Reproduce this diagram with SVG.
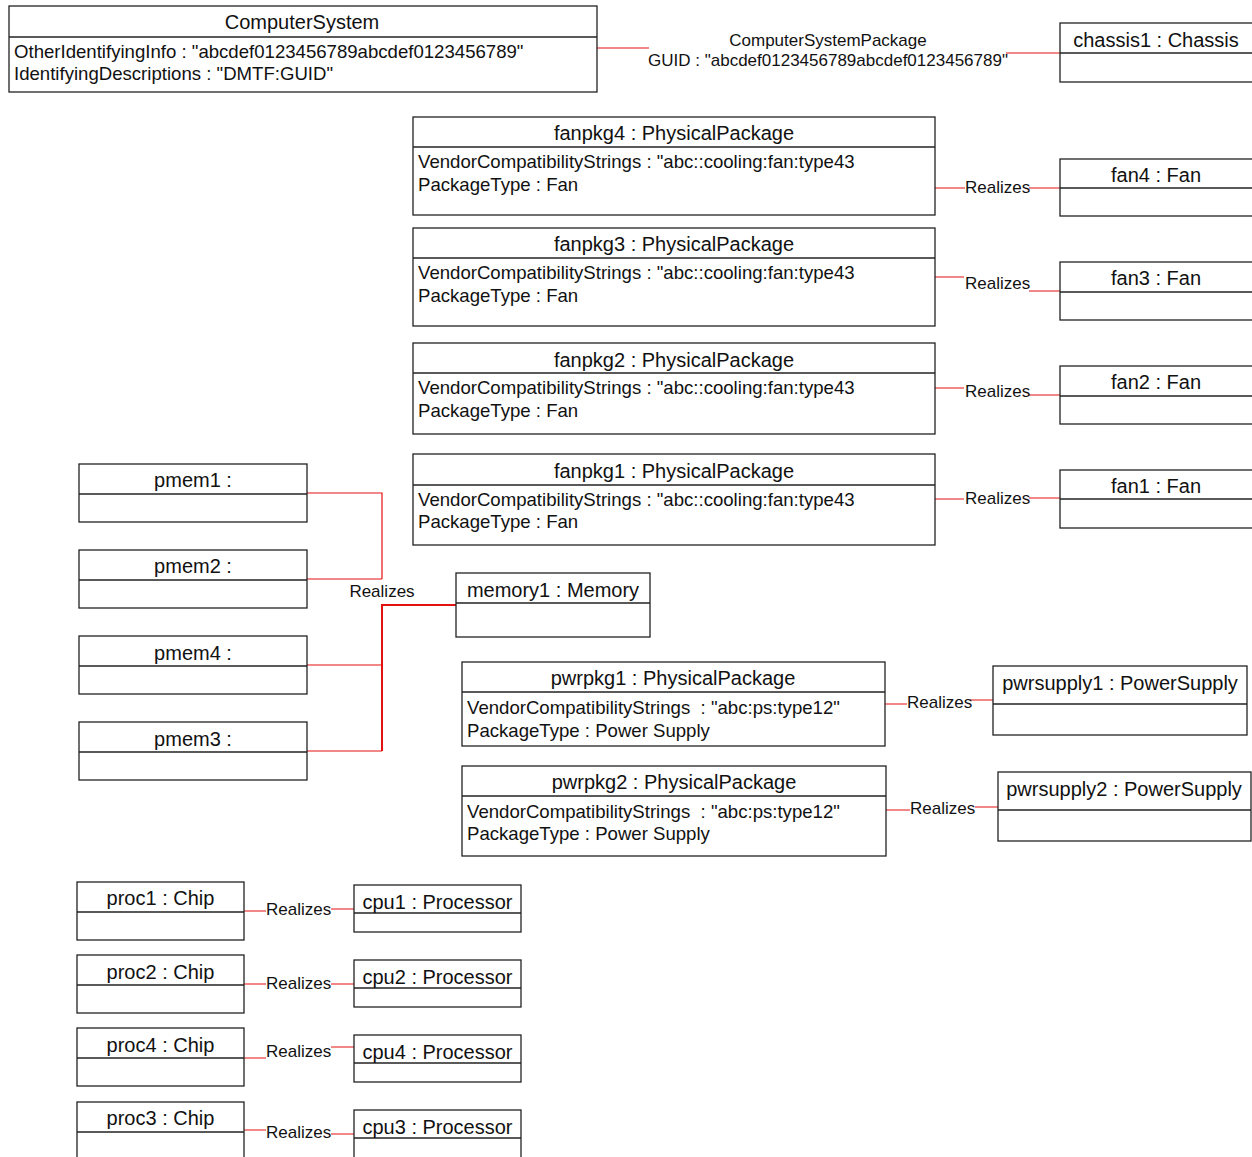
<svg xmlns="http://www.w3.org/2000/svg" width="1252" height="1157" viewBox="0 0 1252 1157">
<style>
text{font-family:"Liberation Sans",Arial,sans-serif;fill:#111}
.b{fill:#fff;stroke:#222;stroke-width:1.3}
.d{stroke:#222;stroke-width:1.3}
.t{font-size:20px;text-anchor:middle}
.a{font-size:18.6px}
.l{font-size:17px}
.lm{font-size:17px;text-anchor:middle}
.c{fill:none;stroke:#e51010;stroke-width:1.2}
.c2{fill:none;stroke:#e51010;stroke-width:2}
</style>
<rect width="1252" height="1157" fill="#fff"/>
<g id="connectors">
<path class="c" d="M597 48H649"/>
<path class="c" d="M1006 53H1060"/>
<path class="c" d="M935 188H965M1029 188H1060"/>
<path class="c" d="M935 277H964M1029 291H1060"/>
<path class="c" d="M935 388H964M1029 395H1060"/>
<path class="c" d="M935 499H964M1029 498H1060"/>
<path class="c" d="M307 493H382V579M307 579H382"/>
<path class="c2" d="M457 605H382V751"/>
<path class="c" d="M307 665H382M307 751H382"/>
<path class="c" d="M885 704H907M970 700H993"/>
<path class="c" d="M886 810H910M975 807H998"/>
<path class="c" d="M244 911H266M331 909H354"/>
<path class="c" d="M244 984H266M331 984H354"/>
<path class="c" d="M244 1058H266M331 1047H354"/>
<path class="c" d="M244 1130H266M331 1134H354"/>
<text class="lm" x="828" y="46">ComputerSystemPackage</text>
<text class="lm" x="828" y="66">GUID : "abcdef0123456789abcdef0123456789"</text>
<text class="l" x="965" y="193">Realizes</text>
<text class="l" x="965" y="289">Realizes</text>
<text class="l" x="965" y="397">Realizes</text>
<text class="l" x="965" y="504">Realizes</text>
<text class="lm" x="382" y="597">Realizes</text>
<text class="l" x="907" y="708">Realizes</text>
<text class="l" x="910" y="814">Realizes</text>
<text class="l" x="266" y="915">Realizes</text>
<text class="l" x="266" y="989">Realizes</text>
<text class="l" x="266" y="1057">Realizes</text>
<text class="l" x="266" y="1138">Realizes</text>
</g>
<g id="ComputerSystem">
<rect class="b" x="9" y="6" width="588" height="86"/>
<path class="d" d="M9 37H597"/>
<text class="t" x="302" y="29">ComputerSystem</text>
<text class="a" x="14" y="58">OtherIdentifyingInfo : "abcdef0123456789abcdef0123456789"</text>
<text class="a" x="14" y="80">IdentifyingDescriptions : "DMTF:GUID"</text>
</g>
<g id="chassis1">
<rect class="b" x="1060" y="23" width="195" height="59"/>
<path class="d" d="M1060 53H1255"/>
<text class="t" x="1156" y="47">chassis1 : Chassis</text>
</g>
<g id="fanpkg4">
<rect class="b" x="413" y="117" width="522" height="98"/>
<path class="d" d="M413 147H935"/>
<text class="t" x="674" y="140">fanpkg4 : PhysicalPackage</text>
<text class="a" x="418" y="168">VendorCompatibilityStrings : "abc::cooling:fan:type43</text>
<text class="a" x="418" y="191">PackageType : Fan</text>
</g>
<g id="fanpkg3">
<rect class="b" x="413" y="228" width="522" height="98"/>
<path class="d" d="M413 258H935"/>
<text class="t" x="674" y="251">fanpkg3 : PhysicalPackage</text>
<text class="a" x="418" y="279">VendorCompatibilityStrings : "abc::cooling:fan:type43</text>
<text class="a" x="418" y="302">PackageType : Fan</text>
</g>
<g id="fanpkg2">
<rect class="b" x="413" y="343" width="522" height="91"/>
<path class="d" d="M413 373H935"/>
<text class="t" x="674" y="367">fanpkg2 : PhysicalPackage</text>
<text class="a" x="418" y="394">VendorCompatibilityStrings : "abc::cooling:fan:type43</text>
<text class="a" x="418" y="417">PackageType : Fan</text>
</g>
<g id="fanpkg1">
<rect class="b" x="413" y="454" width="522" height="91"/>
<path class="d" d="M413 485H935"/>
<text class="t" x="674" y="478">fanpkg1 : PhysicalPackage</text>
<text class="a" x="418" y="506">VendorCompatibilityStrings : "abc::cooling:fan:type43</text>
<text class="a" x="418" y="528">PackageType : Fan</text>
</g>
<g id="fan4">
<rect class="b" x="1060" y="159" width="195" height="57"/>
<path class="d" d="M1060 188H1255"/>
<text class="t" x="1156" y="182">fan4 : Fan</text>
</g>
<g id="fan3">
<rect class="b" x="1060" y="262" width="195" height="58"/>
<path class="d" d="M1060 292H1255"/>
<text class="t" x="1156" y="285">fan3 : Fan</text>
</g>
<g id="fan2">
<rect class="b" x="1060" y="366" width="195" height="58"/>
<path class="d" d="M1060 396H1255"/>
<text class="t" x="1156" y="389">fan2 : Fan</text>
</g>
<g id="fan1">
<rect class="b" x="1060" y="470" width="195" height="58"/>
<path class="d" d="M1060 499H1255"/>
<text class="t" x="1156" y="493">fan1 : Fan</text>
</g>
<g id="pmem1">
<rect class="b" x="79" y="464" width="228" height="58"/>
<path class="d" d="M79 494H307"/>
<text class="t" x="193" y="487">pmem1 :</text>
</g>
<g id="pmem2">
<rect class="b" x="79" y="550" width="228" height="58"/>
<path class="d" d="M79 580H307"/>
<text class="t" x="193" y="573">pmem2 :</text>
</g>
<g id="pmem4">
<rect class="b" x="79" y="636" width="228" height="58"/>
<path class="d" d="M79 666H307"/>
<text class="t" x="193" y="660">pmem4 :</text>
</g>
<g id="pmem3">
<rect class="b" x="79" y="722" width="228" height="58"/>
<path class="d" d="M79 752H307"/>
<text class="t" x="193" y="746">pmem3 :</text>
</g>
<g id="memory1">
<rect class="b" x="456" y="573" width="194" height="64"/>
<path class="d" d="M456 603H650"/>
<text class="t" x="553" y="597">memory1 : Memory</text>
</g>
<g id="pwrpkg1">
<rect class="b" x="462" y="662" width="423" height="84"/>
<path class="d" d="M462 692H885"/>
<text class="t" x="673" y="685">pwrpkg1 : PhysicalPackage</text>
<text class="a" x="467" y="714" xml:space="preserve">VendorCompatibilityStrings  : "abc:ps:type12"</text>
<text class="a" x="467" y="737">PackageType : Power Supply</text>
</g>
<g id="pwrsupply1">
<rect class="b" x="993" y="666" width="254" height="69"/>
<path class="d" d="M993 704H1247"/>
<text class="t" x="1120" y="690">pwrsupply1 : PowerSupply</text>
</g>
<g id="pwrpkg2">
<rect class="b" x="462" y="766" width="424" height="90"/>
<path class="d" d="M462 796H886"/>
<text class="t" x="674" y="789">pwrpkg2 : PhysicalPackage</text>
<text class="a" x="467" y="818" xml:space="preserve">VendorCompatibilityStrings  : "abc:ps:type12"</text>
<text class="a" x="467" y="840">PackageType : Power Supply</text>
</g>
<g id="pwrsupply2">
<rect class="b" x="998" y="772" width="253" height="69"/>
<path class="d" d="M998 810H1251"/>
<text class="t" x="1124" y="796">pwrsupply2 : PowerSupply</text>
</g>
<g id="proc1">
<rect class="b" x="77" y="882" width="167" height="58"/>
<path class="d" d="M77 912H244"/>
<text class="t" x="160.500" y="905">proc1 : Chip</text>
</g>
<g id="cpu1">
<rect class="b" x="354" y="885" width="167" height="47"/>
<path class="d" d="M354 913H521"/>
<text class="t" x="437.500" y="909">cpu1 : Processor</text>
</g>
<g id="proc2">
<rect class="b" x="77" y="955" width="167" height="58"/>
<path class="d" d="M77 985H244"/>
<text class="t" x="160.500" y="979">proc2 : Chip</text>
</g>
<g id="cpu2">
<rect class="b" x="354" y="960" width="167" height="47"/>
<path class="d" d="M354 988H521"/>
<text class="t" x="437.500" y="984">cpu2 : Processor</text>
</g>
<g id="proc4">
<rect class="b" x="77" y="1028" width="167" height="58"/>
<path class="d" d="M77 1058H244"/>
<text class="t" x="160.500" y="1052">proc4 : Chip</text>
</g>
<g id="cpu4">
<rect class="b" x="354" y="1035" width="167" height="47"/>
<path class="d" d="M354 1063H521"/>
<text class="t" x="437.500" y="1059">cpu4 : Processor</text>
</g>
<g id="proc3">
<rect class="b" x="77" y="1102" width="167" height="60"/>
<path class="d" d="M77 1132H244"/>
<text class="t" x="160.500" y="1125">proc3 : Chip</text>
</g>
<g id="cpu3">
<rect class="b" x="354" y="1110" width="167" height="52"/>
<path class="d" d="M354 1138H521"/>
<text class="t" x="437.500" y="1134">cpu3 : Processor</text>
</g>
</svg>
